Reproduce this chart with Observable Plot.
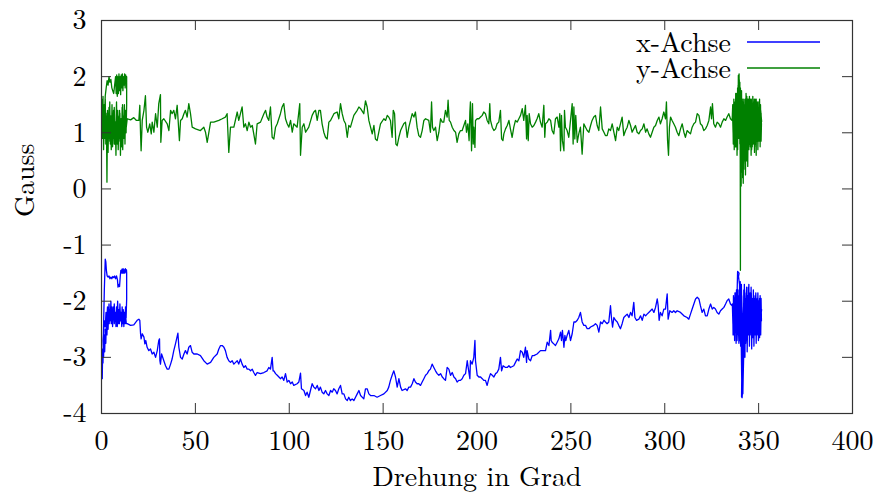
<!DOCTYPE html>
<html><head><meta charset="utf-8">
<script src="https://cdn.jsdelivr.net/npm/d3@7"></script>
<script src="https://cdn.jsdelivr.net/npm/@observablehq/plot@0.6"></script>
<style>body{margin:0;background:#fff}</style>
</head><body><div id="chart"></div>
<script>
const xTicks = [0, 50, 100, 150, 200, 250, 300, 350, 400];
const yTicks = [-4, -3, -2, -1, 0, 1, 2, 3];
const xLabel = "Drehung in Grad";
const yLabel = "Gauss";
const seriesNames = ["x-Achse", "y-Achse"];

// [Drehung in Grad, Gauss]
const xAchse = [
[0.2,-2.85],[0.4,-3.38],[0.6,-2.9],[0.8,-3.1],[1.0,-2.6],[1.5,-1.8],[2.0,-1.25],[2.3,-1.3],[2.6,-1.45],[3.0,-1.55],[3.5,-1.57],[4.0,-1.55],[4.5,-1.6],[5.0,-1.57],[5.5,-1.6],[6.0,-1.56],[6.5,-1.58],[7.0,-1.55],[7.5,-1.6],[8.0,-1.55],[8.5,-1.62],[8.8,-1.75],[9.2,-1.7],[9.6,-1.74],[10.0,-1.55],[10.3,-1.45],[10.6,-1.5],[10.9,-1.43],[11.2,-1.5],[11.5,-1.42],[11.8,-1.5],[12.1,-1.44],[12.4,-1.5],[12.7,-1.42],[13.0,-1.48],[13.3,-1.44],[13.4,-1.5],
[13.4,-1.96],[13.1,-2.3],[12.8,-2.1],[12.5,-2.4],[12.2,-2.2],[11.9,-2.45],[11.6,-2.15],[11.3,-2.35],[11.0,-2.1],[10.7,-2.4],[10.4,-2.2],[10.1,-2.3],[9.8,-2.05],[9.5,-2.4],[9.2,-2.15],[8.9,-2.35],[8.6,-2.0],[8.3,-2.3],[8.0,-2.1],[7.7,-2.45],[7.4,-2.2],[7.1,-2.35],[6.8,-2.05],[6.5,-2.3],[6.2,-2.15],[5.9,-2.45],[5.6,-2.1],[5.3,-2.35],[5.0,-2.0],[4.7,-2.3],[4.4,-2.15],[4.1,-2.4],[3.8,-2.2],[3.5,-2.5],[3.2,-2.25],[2.9,-2.6],[2.6,-2.3],[2.3,-2.75],[2.0,-2.5],[1.7,-2.9],[1.4,-2.6],[1.1,-3.0],[0.8,-2.7],
[1.2,-2.5],[1.6,-2.35],[2.0,-2.45],[2.4,-2.2],[2.8,-2.35],[3.2,-2.1],[3.6,-2.3],[4.0,-2.05],[4.4,-2.35],[4.8,-2.15],[5.2,-2.4],[5.6,-2.2],[6.0,-2.3],[6.4,-2.1],[6.8,-2.4],[7.2,-2.25],[7.6,-2.35],[8.0,-2.2],[8.4,-2.45],[8.8,-2.25],[9.2,-2.4],[9.6,-2.2],[10.0,-2.35],[10.4,-2.25],[10.8,-2.45],[11.2,-2.3],[11.6,-2.4],[12.0,-2.2],[12.4,-2.35],[12.8,-2.25],[13.2,-2.4],
[13.7,-2.40],[15.5,-2.43],[17.2,-2.42],[19.0,-2.34],[19.9,-2.32],[20.4,-2.34],[20.8,-2.58],[21.1,-2.67],[21.7,-2.58],[22.6,-2.64],[23.1,-2.76],[23.6,-2.70],[24.3,-2.82],[25.2,-2.88],[26.1,-2.85],[27.0,-2.94],[27.9,-2.91],[28.8,-3.00],[29.7,-2.88],[30.5,-2.70],[30.9,-2.67],[31.1,-3.06],[31.4,-3.12],[32.0,-2.94],[33.2,-3.06],[34.1,-3.15],[35.0,-3.21],[35.9,-3.21],[36.8,-3.12],[37.6,-3.03],[38.5,-2.88],[39.4,-2.76],[40.7,-2.57],[41.2,-2.82],[42.1,-3.00],[43.0,-3.03],[43.9,-2.94],[44.7,-2.88],[45.6,-2.94],[46.5,-2.82],[47.4,-2.79],[48.3,-2.91],[49.2,-2.94],[51.0,-2.94],[52.7,-2.97],[54.5,-3.06],[56.3,-3.12],[58.1,-3.09],[59.8,-3.00],[61.6,-2.94],[62.5,-2.85],[63.4,-2.79],[64.3,-2.79],[65.2,-2.82],[66.0,-2.88],[66.9,-3.00],[67.8,-3.06],[68.7,-3.09],[69.6,-3.06],[70.5,-3.12],[71.4,-3.09],[72.3,-3.06],[73.1,-3.12],[74.0,-3.03],[74.9,-3.12],[75.8,-3.18],[76.7,-3.15],[77.6,-3.21],[78.5,-3.21],[79.4,-3.24],[80.3,-3.21],[81.1,-3.27],[82.0,-3.32],[82.9,-3.27],[84.7,-3.29],[86.5,-3.27],[88.2,-3.24],[89.1,-3.18],[90.0,-3.21],[90.9,-3.00],[91.4,-3.24],[91.8,-3.24],[92.7,-3.29],[93.6,-3.32],[94.5,-3.35],[95.3,-3.38],[96.2,-3.35],[97.1,-3.41],[98.0,-3.29],[98.9,-3.44],[99.8,-3.41],[100.7,-3.47],[101.6,-3.44],[102.4,-3.50],[104.2,-3.47],[105.1,-3.44],[106.0,-3.28],[106.5,-3.56],[107.8,-3.59],[108.7,-3.68],[109.5,-3.62],[110.4,-3.71],[111.3,-3.59],[112.2,-3.47],[113.1,-3.53],[114.0,-3.56],[114.9,-3.50],[115.8,-3.59],[116.6,-3.53],[117.5,-3.62],[118.4,-3.65],[119.3,-3.59],[120.2,-3.65],[121.1,-3.68],[122.0,-3.59],[122.9,-3.62],[123.7,-3.56],[124.6,-3.59],[125.5,-3.65],[126.4,-3.56],[127.3,-3.50],[128.2,-3.65],[129.1,-3.65],[130.0,-3.74],[130.9,-3.77],[131.7,-3.71],[132.6,-3.77],[133.5,-3.74],[134.4,-3.77],[135.3,-3.71],[136.2,-3.65],[137.1,-3.59],[138.0,-3.68],[139.7,-3.74],[140.6,-3.56],[141.5,-3.56],[142.4,-3.65],[143.3,-3.68],[145.1,-3.68],[146.8,-3.71],[148.6,-3.68],[150.4,-3.65],[152.2,-3.59],[153.0,-3.53],[153.9,-3.41],[154.8,-3.32],[155.7,-3.24],[156.6,-3.35],[157.5,-3.53],[158.4,-3.38],[159.3,-3.53],[160.1,-3.59],[161.9,-3.56],[162.8,-3.59],[163.7,-3.53],[164.6,-3.53],[165.5,-3.47],[166.4,-3.38],[167.2,-3.44],[168.1,-3.47],[169.0,-3.47],[169.9,-3.50],[170.8,-3.44],[171.7,-3.38],[172.6,-3.32],[173.5,-3.29],[174.3,-3.24],[175.2,-3.21],
[176.1,-3.12],[177.0,-3.18],[177.9,-3.24],[178.8,-3.29],[179.7,-3.32],[180.6,-3.29],[181.5,-3.35],[182.3,-3.38],[183.2,-3.41],[184.1,-3.18],[185.0,-3.21],[185.9,-3.32],[186.8,-3.27],[187.7,-3.35],[188.6,-3.38],[189.4,-3.44],[190.3,-3.41],[191.2,-3.41],[192.1,-3.38],[193.0,-3.32],[193.9,-3.29],[194.8,-3.06],[195.3,-3.18],[195.8,-3.29],[196.2,-3.38],[196.5,-3.06],[197.4,-3.12],[198.3,-3.00],[198.9,-2.70],[199.2,-3.06],[200.1,-3.32],[201.0,-3.35],[201.9,-3.35],[202.8,-3.38],[203.6,-3.41],[204.5,-3.41],[205.4,-3.50],[206.3,-3.38],[207.2,-3.29],[208.1,-3.32],[209.0,-3.35],[209.9,-3.29],[210.7,-3.27],[211.6,-3.21],[212.5,-3.00],[213.1,-3.24],[213.9,-3.15],[215.2,-3.18],[216.1,-3.18],[217.0,-3.15],[217.8,-3.18],[219.6,-3.15],[220.5,-3.09],[221.4,-3.03],[222.3,-3.06],[223.2,-2.88],[224.1,-2.91],[224.9,-3.00],[225.8,-2.82],[226.4,-3.09],[226.7,-2.88],[227.6,-3.03],[228.5,-3.06],[229.4,-2.97],[230.3,-2.97],[232.0,-2.94],[233.8,-2.88],[235.6,-2.88],[236.5,-2.88],[237.4,-2.73],[238.3,-2.79],[239.2,-2.52],[239.5,-2.70],[240.0,-2.73],[240.9,-2.76],[241.8,-2.79],[242.7,-2.73],[243.6,-2.67],[244.5,-2.55],[245.0,-2.70],[245.5,-2.52],[246.3,-2.82],[246.8,-2.61],[247.3,-2.70],[248.0,-2.61],[248.9,-2.52],[249.8,-2.70],[250.7,-2.58],[251.6,-2.37],[252.5,-2.37],[253.4,-2.34],[254.2,-2.29],[255.1,-2.20],[256.0,-2.37],[256.9,-2.43],[257.8,-2.43],[258.7,-2.49],[259.6,-2.49],[260.5,-2.46],[262.2,-2.43],[263.1,-2.40],[264.0,-2.43],[264.9,-2.55],[265.8,-2.37],[266.7,-2.40],[267.6,-2.34],[268.4,-2.37],[269.3,-2.40],[270.2,-2.37],[271.1,-2.08],[271.6,-2.29],[272.2,-2.46],[272.9,-2.29],[273.8,-2.34],[274.7,-2.37],[275.5,-2.43],[276.4,-2.49],[277.3,-2.40],[278.2,-2.29],[279.1,-2.26],[280.0,-2.23],[280.9,-2.29],[281.8,-2.20],[282.6,-2.26],[283.5,-2.02],[284.1,-2.29],[285.0,-2.34],[286.2,-2.32],[287.1,-2.26],[288.0,-2.34],[288.9,-2.23],[289.8,-2.26],[290.6,-2.23],[291.5,-2.20],[292.4,-2.17],[293.3,-2.14],[294.2,-2.20],[295.1,-2.11],[296.0,-1.96],[296.5,-2.08],[297.0,-2.34],[297.7,-2.20],[298.6,-2.26],[299.5,-2.14],[300.4,-2.14],[301.3,-1.87],[301.8,-2.32],[302.7,-2.17],[303.9,-2.20],[304.8,-2.17],[305.7,-2.20],[306.6,-2.17],[308.4,-2.20],[310.2,-2.26],[311.9,-2.29],[312.8,-2.32],[313.7,-2.23],[314.6,-2.14],[315.5,-2.05],[316.4,-1.96],[317.3,-1.93],[318.2,-1.96],[319.0,-2.08],[319.9,-2.20],[320.8,-2.14],[321.7,-2.26],[322.6,-2.26],[323.5,-2.14],[324.4,-2.05],[325.3,-2.14],[326.1,-2.11],[327.0,-2.14],[327.9,-2.20],[328.8,-2.23],[329.7,-2.17],[330.6,-2.14],[331.5,-2.11],[332.4,-2.05],[333.2,-1.99],[334.1,-1.96],[335.0,-2.05],[335.9,-2.08],
[336.2,-2.1],[336.4,-2.6],[336.6,-1.9],[336.8,-2.5],[337.0,-2.0],[337.2,-2.7],[337.4,-1.85],[337.6,-2.4],[337.8,-2.0],[338.0,-2.75],[338.2,-1.8],[338.4,-2.5],[338.6,-1.75],[338.8,-1.47],[339.6,-1.5],[339.3,-1.56],[339.8,-1.7],[340.0,-2.4],[340.2,-1.65],[340.4,-2.8],[340.6,-2.0],[340.8,-2.9],[341.0,-3.4],[340.9,-3.7],[341.2,-3.72],[341.6,-3.5],[341.8,-3.0],[341.5,-2.85],[341.9,-2.6],[342.1,-1.8],[342.3,-2.7],[342.5,-1.9],[342.7,-3.0],[342.9,-2.2],[343.1,-2.75],[343.3,-1.85],[343.5,-2.6],[343.7,-2.0],[343.9,-2.8],[344.1,-1.9],[344.3,-2.5],[344.5,-1.75],[344.7,-2.4],[344.9,-2.0],[345.1,-2.7],[345.3,-1.9],[345.5,-2.45],[345.7,-2.05],[345.9,-2.6],[346.1,-1.85],[346.3,-2.4],[346.5,-2.1],[346.7,-2.55],[346.9,-1.95],[347.1,-2.35],[347.3,-2.0],[347.5,-2.6],[347.7,-2.15],[347.9,-2.5],[348.1,-1.95],[348.3,-2.3],[348.5,-2.1],[348.7,-2.55],[348.9,-2.0],[349.1,-2.4],[349.3,-1.95],[349.5,-2.6],[349.7,-2.1],[349.9,-2.45],[350.1,-2.0],[350.3,-2.55],[350.5,-2.2],[350.7,-2.4],[350.9,-2.05],[351.1,-2.6],[351.3,-2.2],[351.5,-2.35],
[351.3,-1.95],[351.0,-2.45],[350.8,-1.9],[350.5,-2.65],[350.2,-2.1],[349.9,-2.7],[349.6,-1.85],[349.3,-2.5],[349.0,-2.15],[348.7,-2.75],[348.4,-1.9],[348.1,-2.6],[347.8,-2.05],[347.5,-2.8],[347.2,-1.8],[346.9,-2.65],[346.6,-2.0],[346.3,-2.85],[346.0,-1.75],[345.7,-2.55],[345.4,-1.95],[345.1,-2.8],[344.8,-1.7],[344.5,-2.6],[344.2,-2.1],[343.9,-2.9],[343.6,-1.75],[343.3,-2.7],[343.0,-1.95],[342.7,-2.85],[342.4,-1.7],[342.1,-2.9],[341.8,-3.3],[341.6,-3.65],[341.4,-3.3],[341.1,-2.2],[340.8,-1.7],[340.5,-2.6],[340.2,-1.85],[339.9,-2.7],[339.6,-1.9],[339.3,-2.6],[339.0,-1.8],[338.7,-2.45],[338.4,-1.9],[338.1,-2.6],[337.8,-1.85],[337.5,-2.45],[337.2,-2.0],[336.9,-2.6],[336.6,-2.15],[336.3,-2.4],[336.0,-2.05],
[336.5,-2.3],[337.0,-1.95],[337.5,-2.55],[338.0,-2.1],[338.5,-2.7],[339.0,-2.2],[339.5,-2.75],[340.0,-1.95],[340.5,-2.5],[341.0,-1.9],[341.5,-2.7],[342.0,-2.1],[342.5,-2.8],[343.0,-2.3],[343.5,-1.8],[344.0,-2.45],[344.5,-2.05],[345.0,-2.6],[345.5,-1.85],[346.0,-2.35],[346.5,-1.95],[347.0,-2.5],[347.5,-1.9],[348.0,-2.4],[348.5,-1.85],[349.0,-2.5],[349.5,-2.0],[350.0,-2.35],[350.5,-1.95],[351.0,-2.3],[351.6,-2.15]
];

const yAchse = [
[0.2,1.3],[0.4,0.9],[0.6,1.6],[0.8,1.1],[1.0,1.45],[1.5,1.2],[2.0,1.66],[2.5,1.8],[3.0,1.93],[3.5,1.85],[4.0,2.0],[4.5,1.9],[5.0,1.95],[5.5,1.8],[6.0,1.75],[6.5,1.7],[7.0,1.85],[7.5,2.0],[7.8,1.7],[8.1,2.03],[8.4,1.65],[8.7,2.0],[9.0,1.7],[9.3,2.05],[9.6,1.75],[9.9,2.0],[10.2,1.68],[10.5,2.03],[10.8,1.8],[11.1,2.05],[11.4,1.75],[11.7,2.0],[12.0,1.85],[12.3,2.05],[12.6,1.8],[12.9,2.03],[13.2,1.9],[13.4,2.0],
[13.4,1.5],[13.1,1.0],[12.8,1.4],[12.5,0.8],[12.2,1.5],[11.9,0.9],[11.6,1.3],[11.3,0.7],[11.0,1.45],[10.7,0.85],[10.4,1.25],[10.1,0.6],[9.8,1.35],[9.5,0.9],[9.2,1.2],[8.9,0.7],[8.6,1.4],[8.3,0.95],[8.0,1.3],[7.7,0.6],[7.4,1.15],[7.1,0.8],[6.8,1.45],[6.5,0.9],[6.2,1.2],[5.9,0.75],[5.6,1.5],[5.3,0.95],[5.0,1.3],[4.7,0.8],[4.4,1.55],[4.1,0.9],[3.8,1.2],[3.5,0.65],[3.2,1.4],[2.9,0.12],[2.6,1.3],[2.3,0.8],[2.0,1.6],[1.7,0.9],[1.4,1.5],[1.1,0.7],[0.8,1.65],[0.5,1.0],
[0.8,1.3],[1.2,0.8],[1.6,1.5],[2.0,1.0],[2.4,1.35],[2.8,0.75],[3.2,1.2],[3.6,0.9],[4.0,1.45],[4.4,0.85],[4.8,1.25],[5.2,0.7],[5.6,1.3],[6.0,1.0],[6.4,1.4],[6.8,0.8],[7.2,1.2],[7.6,0.95],[8.0,1.55],[8.4,0.8],[8.8,1.3],[9.2,0.85],[9.6,1.4],[10.0,1.0],[10.4,1.2],[10.8,0.75],[11.2,1.5],[11.6,0.95],[12.0,1.3],[12.4,0.9],[12.8,1.4],[13.2,1.1],
[13.7,1.25],[15.5,1.23],[17.2,1.27],[18.6,1.22],[19.9,1.22],[20.4,1.49],[20.8,0.98],[21.1,0.68],[21.7,1.22],[22.6,1.40],[23.4,1.66],[24.0,1.10],[24.7,1.01],[25.7,1.16],[26.5,0.98],[27.0,1.19],[27.9,1.01],[28.8,1.34],[29.7,1.10],[30.5,1.52],[31.4,1.68],[31.6,0.83],[32.3,1.22],[33.2,1.25],[35.0,1.16],[35.9,1.04],[36.8,1.40],[37.6,1.34],[38.5,1.40],[39.4,1.25],[40.3,1.49],[41.5,0.86],[42.1,1.22],[43.0,1.25],[43.9,1.34],[44.7,1.40],[45.6,1.28],[46.5,1.52],[47.4,1.34],[48.3,1.10],[50.1,1.07],[52.7,1.04],[54.5,1.10],[55.4,1.01],[56.3,0.83],[58.1,1.19],[59.8,1.19],[62.5,1.22],[64.3,1.25],[66.0,1.28],[66.9,1.34],[67.8,0.65],[68.7,1.10],[70.5,1.10],[72.3,1.37],[73.1,1.22],[74.0,1.34],[74.9,1.46],[75.8,1.10],[76.7,1.16],[77.6,1.04],[78.5,1.19],[79.4,1.10],[80.3,1.13],[81.1,0.98],[82.0,0.80],[82.9,1.16],[84.7,1.19],[86.5,1.34],[87.4,1.40],[88.2,1.28],[89.1,1.22],[90.0,1.46],[90.9,0.92],[91.8,0.89],[92.7,1.10],[93.6,1.16],[95.3,1.34],[96.2,1.46],[97.1,1.52],[98.0,1.25],[98.9,1.16],[99.8,1.10],[100.7,1.22],[101.6,1.01],[102.4,1.16],[104.2,1.10],[105.6,1.52],[106.0,0.60],[106.9,1.10],[107.8,1.16],[108.7,1.01],[110.4,1.10],[112.2,1.31],[113.1,1.37],[114.0,1.40],[114.9,1.22],[115.8,1.40],[116.6,1.40],[117.5,1.16],[118.4,1.01],[119.3,0.92],[120.2,0.89],[121.1,1.19],[122.0,1.22],[123.8,1.34],[125.5,1.37],[126.4,1.25],[127.3,1.52],[128.2,1.34],[129.1,1.22],[130.0,1.16],[130.9,0.92],[131.7,1.13],[132.6,1.10],[134.4,1.31],[136.2,1.40],[137.1,1.46],[138.0,1.43],[139.7,1.34],[140.6,1.57],[141.5,1.46],[142.4,1.22],[143.3,1.10],[144.2,0.98],[145.1,1.13],[145.9,0.89],[146.8,0.86],[147.7,1.01],[148.6,1.16],[150.4,1.25],[151.3,1.22],[152.2,1.31],[153.0,1.28],[153.9,1.22],[154.8,0.92],[155.4,1.40],[156.1,1.34],[156.8,0.80],[157.5,0.77],[158.4,0.92],[159.3,1.04],[160.1,1.10],[161.0,1.16],[161.9,1.19],[162.8,0.92],[163.7,1.10],[164.6,1.22],[165.5,1.34],[166.4,1.28],[167.2,1.37],[168.1,1.10],[169.0,0.95],[169.9,0.92],[170.8,1.04],[171.7,1.22],[172.6,1.25],[174.3,1.22],
[175.2,1.01],[175.8,1.55],[176.3,1.10],[177.0,1.04],[177.9,1.10],[178.8,0.86],[179.7,1.01],[180.6,1.25],[181.5,1.19],[182.3,1.19],[183.2,1.40],[184.1,1.28],[184.6,1.58],[185.2,1.22],[185.9,1.19],[186.8,1.10],[187.7,1.04],[188.6,1.01],[189.4,0.83],[190.3,0.98],[191.2,1.04],[192.1,1.04],[193.0,1.13],[193.9,1.22],[194.4,1.01],[195.1,1.16],[195.8,0.86],[196.2,1.37],[196.5,1.55],[197.1,0.68],[197.6,1.52],[198.0,0.80],[198.3,1.10],[198.9,0.74],[199.2,1.22],[200.1,1.25],[201.0,1.25],[201.9,1.28],[202.8,1.31],[203.6,1.37],[204.5,1.34],[205.4,1.22],[206.3,1.16],[206.8,1.52],[207.2,1.22],[208.1,1.10],[209.0,1.04],[209.9,1.07],[210.7,1.16],[211.6,1.19],[212.5,1.40],[213.1,0.89],[213.8,0.86],[214.3,0.98],[215.2,1.07],[216.1,1.13],[217.0,1.22],[217.8,1.07],[218.7,0.92],[219.6,1.10],[220.5,1.22],[221.4,1.19],[222.3,1.25],[223.2,1.31],[224.1,1.43],[224.9,1.22],[225.8,1.49],[226.4,0.89],[226.7,1.31],[227.3,0.86],[227.8,1.34],[228.5,1.16],[229.4,1.10],[230.3,1.13],[231.2,1.19],[232.0,1.25],[232.9,1.34],[233.8,1.19],[234.7,1.10],[235.6,1.49],[236.1,0.92],[236.5,1.16],[237.4,1.19],[238.3,1.25],[239.2,1.22],[240.0,1.04],[240.9,0.98],[241.8,1.25],[242.7,1.28],[243.6,1.10],[244.1,1.34],[244.5,0.68],[245.0,1.31],[245.5,0.86],[246.3,0.68],[246.6,1.40],[247.1,1.10],[248.0,1.04],[248.9,0.92],[249.8,1.22],[250.7,1.52],[251.2,0.80],[251.6,1.46],[252.1,0.89],[252.6,1.31],[253.4,0.83],[254.2,0.98],[255.1,1.10],[256.0,0.62],[256.9,1.16],[257.8,1.10],[258.7,1.04],[259.6,1.01],[260.5,1.13],[261.3,1.22],[262.2,1.28],[263.1,1.31],[264.0,1.13],[264.9,1.04],[265.8,1.46],[266.7,1.07],[267.6,1.01],[268.4,0.95],[269.3,0.95],[270.2,1.07],[271.1,1.04],[272.0,1.16],[272.9,1.01],[273.8,0.86],[274.7,1.10],[275.5,1.04],[276.4,1.16],[277.3,1.28],[278.2,0.95],[279.1,1.04],[280.0,1.10],[280.9,1.22],[281.8,1.13],[282.6,1.01],[283.5,1.07],[284.4,1.13],[285.3,1.01],[286.2,0.98],[287.1,1.04],[288.0,1.07],[288.9,1.16],[289.8,1.01],[290.6,1.07],[291.5,0.98],[292.4,0.92],[293.3,1.01],[294.2,1.10],[295.1,1.13],[296.0,1.22],[296.9,1.28],[297.7,1.16],[298.6,1.25],[299.5,1.37],[300.4,1.25],[300.9,1.55],[301.5,0.86],[302.0,0.60],[302.5,1.10],[303.1,1.28],[303.9,1.22],[304.8,1.16],[305.7,1.10],[306.6,1.01],[307.5,0.95],[308.4,1.07],[309.3,1.16],[310.2,1.01],[311.0,0.92],[311.9,1.04],[312.8,1.01],[313.7,0.98],[314.6,1.10],[315.5,1.16],[316.4,1.19],[317.3,1.34],[318.2,1.31],[319.0,1.16],[319.9,1.13],[320.8,1.04],[321.7,1.07],[322.6,1.13],[323.5,1.22],[324.4,1.46],[324.9,1.25],[325.4,1.52],[326.1,1.16],[327.0,1.10],[327.9,1.19],[328.8,1.16],[329.7,1.10],[330.6,1.19],[331.5,1.25],[332.4,1.22],[333.2,1.28],[334.1,1.34],[335.0,1.25],[335.9,1.22],
[336.2,1.5],[336.5,0.8],[336.8,1.6],[337.0,0.7],[337.3,1.45],[337.5,0.9],[337.8,1.7],[338.0,0.75],[338.3,1.55],[338.5,0.6],[338.8,1.8],[339.0,1.0],[339.2,2.02],[339.4,1.2],[339.6,2.05],[339.8,0.9],[340.0,1.9],[340.2,0.5],[340.3,-1.45],[340.35,0.3],[340.5,1.7],[340.7,0.05],[340.9,1.5],[341.1,0.3],[341.3,1.6],[341.5,0.2],[341.7,1.45],[341.9,0.45],[342.1,1.55],[342.3,0.5],[342.5,1.3],[342.7,0.35],[342.9,1.6],[343.1,0.6],[343.3,1.4],[343.5,0.7],[343.7,1.65],[343.9,0.8],[344.1,1.5],[344.3,0.9],[344.5,1.6],[344.7,0.75],[344.9,1.55],[345.1,0.85],[345.3,1.45],[345.5,0.95],[345.7,1.6],[345.9,0.8],[346.1,1.5],[346.3,0.7],[346.5,1.45],[346.7,0.9],[346.9,1.55],[347.1,0.8],[347.3,1.4],[347.5,1.0],[347.7,1.6],[347.9,0.75],[348.1,1.5],[348.3,0.9],[348.5,1.35],[348.7,0.6],[348.9,1.45],[349.1,0.85],[349.3,1.55],[349.5,0.95],[349.7,1.4],[349.9,0.9],[350.1,1.5],[350.3,0.85],[350.5,1.3],[350.7,1.0],[350.9,1.45],[351.1,1.05],[351.3,1.35],[351.5,1.15],
[351.3,0.85],[351.0,1.5],[350.8,0.75],[350.5,1.6],[350.2,0.9],[349.9,1.45],[349.6,0.7],[349.3,1.5],[349.0,1.0],[348.7,1.6],[348.4,0.8],[348.1,1.4],[347.8,0.65],[347.5,1.55],[347.2,0.9],[346.9,1.65],[346.6,0.75],[346.3,1.5],[346.0,0.6],[345.7,1.45],[345.4,0.8],[345.1,1.65],[344.8,0.7],[344.5,1.5],[344.2,0.4],[343.9,1.55],[343.6,0.5],[343.3,1.7],[343.0,0.25],[342.7,1.5],[342.4,0.6],[342.1,1.6],[341.8,0.1],[341.5,1.55],[341.2,0.45],[340.9,1.75],[340.6,0.7],[340.3,1.8],[340.0,0.8],[339.7,1.95],[339.4,0.9],[339.1,1.85],[338.8,0.7],[338.5,1.65],[338.2,0.85],[337.9,1.6],[337.6,0.75],[337.3,1.5],[337.0,0.9],[336.7,1.45],[336.4,1.0],[336.1,1.35],
[336.6,0.9],[337.1,1.55],[337.6,1.0],[338.1,1.7],[338.6,0.8],[339.1,1.6],[339.6,0.95],[340.1,1.7],[340.6,0.85],[341.1,1.6],[341.6,0.6],[342.1,1.4],[342.6,0.8],[343.1,1.55],[343.6,0.9],[344.1,1.6],[344.6,0.85],[345.1,1.45],[345.6,0.75],[346.1,1.6],[346.6,0.95],[347.1,1.5],[347.6,0.85],[348.1,1.6],[348.6,0.95],[349.1,1.45],[349.6,0.9],[350.1,1.55],[350.6,1.0],[351.1,1.4],[351.6,1.2]
];

const FONT = "'Latin Modern Roman','CMU Serif','Liberation Serif','Times New Roman',serif";
const BLUE = "#0000ff", GREEN = "#008000", AX = "#333";
const W = 877, H = 498, ML = 101, MR = 25, MT = 20, MB = 85;
const PW = W - ML - MR, PH = H - MT - MB;

const svg = Plot.plot({
  width: W, height: H,
  marginLeft: ML, marginRight: MR, marginTop: MT, marginBottom: MB,
  style: {fontFamily: FONT, fontSize: "28px", background: "#fff", color: "#000"},
  x: {domain: [0, 400], axis: null},
  y: {domain: [-4, 3], axis: null},
  marks: [
    Plot.line(xAchse, {x: d => d[0], y: d => d[1], stroke: BLUE, strokeWidth: 1.3}),
    Plot.line(yAchse, {x: d => d[0], y: d => d[1], stroke: GREEN, strokeWidth: 1.3}),
    Plot.tickX(xTicks, {x: d => d, insetTop: PH - 10, stroke: AX}),
    Plot.tickX(xTicks, {x: d => d, insetBottom: PH - 10, stroke: AX}),
    Plot.tickY(yTicks, {y: d => d, insetRight: PW - 10, stroke: AX}),
    Plot.tickY(yTicks, {y: d => d, insetLeft: PW - 10, stroke: AX}),
    Plot.frame({stroke: AX, strokeWidth: 1.2}),
    Plot.text(xTicks, {x: d => d, frameAnchor: "bottom", dy: 28, text: d => String(d), fontSize: 28, lineAnchor: "middle", fill: "#000"}),
    Plot.text(yTicks, {y: d => d, frameAnchor: "left", dx: -15, textAnchor: "end", text: d => String(d), fontSize: 28, lineAnchor: "middle", fill: "#000"}),
    Plot.text([xLabel], {frameAnchor: "bottom", dy: 64, text: d => d, fontSize: 28, lineAnchor: "middle", fill: "#000"}),
    Plot.text([yLabel], {frameAnchor: "left", dx: -76, rotate: -90, text: d => d, fontSize: 28, lineAnchor: "middle", fill: "#000"})
  ]
});

const g = d3.select(svg).append("g").attr("font-family", FONT).attr("font-size", 28);
const legendColors = [BLUE, GREEN];
seriesNames.forEach((name, i) => {
  const y = 42 + i * 26;
  g.append("text").attr("x", 731).attr("y", y).attr("text-anchor", "end").attr("dy", "0.35em").attr("fill", "#000").text(name);
  g.append("line").attr("x1", 747).attr("x2", 820).attr("y1", y).attr("y2", y).attr("stroke", legendColors[i]).attr("stroke-width", 1.3);
});

document.getElementById("chart").appendChild(svg);
</script>
</body></html>
